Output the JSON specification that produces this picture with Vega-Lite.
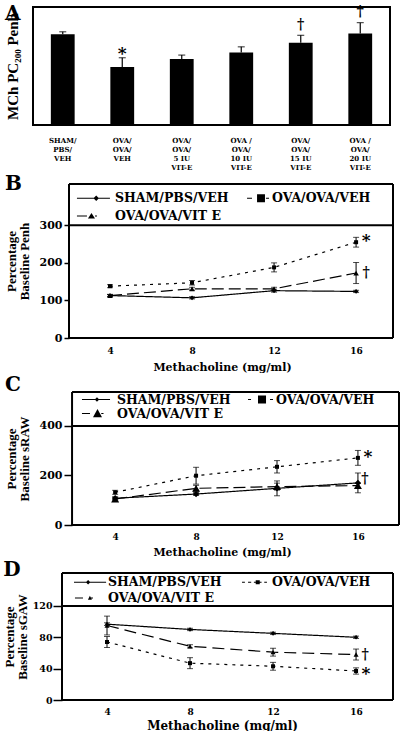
{
  "$schema": "https://vega.github.io/schema/vega-lite/v6.json",
  "padding": {"left": 3, "top": 3, "right": 0, "bottom": 0},
  "background": "white",
  "columns": 1,
  "spacing": 3,
  "center": false,
  "resolve": {
    "scale": {"shape": "independent", "size": "independent", "strokeDash": "independent"},
    "legend": {"shape": "independent", "size": "independent", "strokeDash": "independent"}
  },
  "config": {
    "view": {"stroke": "black", "strokeWidth": 2},
    "axis": {"labelFont": "DejaVu Serif", "labelFontWeight": "bold", "labelColor": "black", "titleFont": "Liberation Serif", "titleFontWeight": "bold", "titleColor": "black", "grid": false, "domain": false, "tickColor": "black"},
    "legend": {"labelFont": "DejaVu Serif", "labelFontWeight": "bold", "labelColor": "black", "labelFontSize": 12.5, "padding": 0},
    "title": {"font": "DejaVu Serif", "fontWeight": "bold", "fontSize": 20, "anchor": "start", "frame": "bounds", "color": "black"}
  },
  "datasets": {
    "bars": [
      {"group": "SHAM/|PBS/|VEH", "value": 30.8, "upper": 31.6},
      {"group": "OVA/|OVA/|VEH", "value": 19.7, "upper": 22.8},
      {"group": "OVA/|OVA/|5 IU|VIT-E", "value": 22.4, "upper": 23.7},
      {"group": "OVA /|OVA/|10 IU|VIT-E", "value": 24.6, "upper": 26.5},
      {"group": "OVA/|OVA/|15 IU|VIT-E", "value": 27.9, "upper": 30.4},
      {"group": "OVA /|OVA/|20 IU|VIT-E", "value": 31.0, "upper": 34.7}
    ],
    "notesA": [
      {"group": "OVA/|OVA/|VEH", "y": 25.5, "note": "*"},
      {"group": "OVA/|OVA/|15 IU|VIT-E", "y": 33.9, "note": "†"},
      {"group": "OVA /|OVA/|20 IU|VIT-E", "y": 38.3, "note": "†"}
    ],
    "lines": [
      {"panel": "B", "series": "SHAM/PBS/VEH", "dose": 4, "value": 113, "lo": 110, "hi": 116},
      {"panel": "B", "series": "SHAM/PBS/VEH", "dose": 8, "value": 107, "lo": 104, "hi": 110},
      {"panel": "B", "series": "SHAM/PBS/VEH", "dose": 12, "value": 126, "lo": 122, "hi": 130},
      {"panel": "B", "series": "SHAM/PBS/VEH", "dose": 16, "value": 124, "lo": 121, "hi": 127},
      {"panel": "B", "series": "OVA/OVA/VEH", "dose": 4, "value": 138, "lo": 134, "hi": 142},
      {"panel": "B", "series": "OVA/OVA/VEH", "dose": 8, "value": 147, "lo": 141, "hi": 153},
      {"panel": "B", "series": "OVA/OVA/VEH", "dose": 12, "value": 188, "lo": 176, "hi": 200},
      {"panel": "B", "series": "OVA/OVA/VEH", "dose": 16, "value": 255, "lo": 242, "hi": 268},
      {"panel": "B", "series": "OVA/OVA/VIT E", "dose": 4, "value": 113, "lo": 110, "hi": 116},
      {"panel": "B", "series": "OVA/OVA/VIT E", "dose": 8, "value": 131, "lo": 127, "hi": 135},
      {"panel": "B", "series": "OVA/OVA/VIT E", "dose": 12, "value": 131, "lo": 127, "hi": 135},
      {"panel": "B", "series": "OVA/OVA/VIT E", "dose": 16, "value": 173, "lo": 145, "hi": 201},
      {"panel": "C", "series": "SHAM/PBS/VEH", "dose": 4, "value": 108, "lo": 103, "hi": 113},
      {"panel": "C", "series": "SHAM/PBS/VEH", "dose": 8, "value": 125, "lo": 119, "hi": 131},
      {"panel": "C", "series": "SHAM/PBS/VEH", "dose": 12, "value": 148, "lo": 118, "hi": 178},
      {"panel": "C", "series": "SHAM/PBS/VEH", "dose": 16, "value": 170, "lo": 130, "hi": 210},
      {"panel": "C", "series": "OVA/OVA/VEH", "dose": 4, "value": 132, "lo": 124, "hi": 140},
      {"panel": "C", "series": "OVA/OVA/VEH", "dose": 8, "value": 199, "lo": 165, "hi": 233},
      {"panel": "C", "series": "OVA/OVA/VEH", "dose": 12, "value": 235, "lo": 210, "hi": 260},
      {"panel": "C", "series": "OVA/OVA/VEH", "dose": 16, "value": 271, "lo": 241, "hi": 301},
      {"panel": "C", "series": "OVA/OVA/VIT E", "dose": 4, "value": 105, "lo": 97, "hi": 113},
      {"panel": "C", "series": "OVA/OVA/VIT E", "dose": 8, "value": 148, "lo": 136, "hi": 160},
      {"panel": "C", "series": "OVA/OVA/VIT E", "dose": 12, "value": 155, "lo": 141, "hi": 169},
      {"panel": "C", "series": "OVA/OVA/VIT E", "dose": 16, "value": 159, "lo": 150, "hi": 168},
      {"panel": "D", "series": "SHAM/PBS/VEH", "dose": 4, "value": 96.7, "lo": 95, "hi": 98.5},
      {"panel": "D", "series": "SHAM/PBS/VEH", "dose": 8, "value": 90, "lo": 88.5, "hi": 91.5},
      {"panel": "D", "series": "SHAM/PBS/VEH", "dose": 12, "value": 85, "lo": 83.5, "hi": 86.5},
      {"panel": "D", "series": "SHAM/PBS/VEH", "dose": 16, "value": 80, "lo": 78.5, "hi": 81.5},
      {"panel": "D", "series": "OVA/OVA/VEH", "dose": 4, "value": 74, "lo": 67, "hi": 81},
      {"panel": "D", "series": "OVA/OVA/VEH", "dose": 8, "value": 47, "lo": 40, "hi": 54},
      {"panel": "D", "series": "OVA/OVA/VEH", "dose": 12, "value": 43, "lo": 38, "hi": 48},
      {"panel": "D", "series": "OVA/OVA/VEH", "dose": 16, "value": 37, "lo": 33, "hi": 41},
      {"panel": "D", "series": "OVA/OVA/VIT E", "dose": 4, "value": 95, "lo": 83, "hi": 107},
      {"panel": "D", "series": "OVA/OVA/VIT E", "dose": 8, "value": 68.5, "lo": 66.5, "hi": 70.5},
      {"panel": "D", "series": "OVA/OVA/VIT E", "dose": 12, "value": 61, "lo": 56, "hi": 66},
      {"panel": "D", "series": "OVA/OVA/VIT E", "dose": 16, "value": 58, "lo": 51, "hi": 65}
    ],
    "notes": [
      {"panel": "B", "dose": 16, "y": 269, "note": "*"},
      {"panel": "B", "dose": 16, "y": 173, "note": "†"},
      {"panel": "C", "dose": 16, "y": 291, "note": "*"},
      {"panel": "C", "dose": 16, "y": 186, "note": "†"},
      {"panel": "D", "dose": 16, "y": 57.5, "note": "†"},
      {"panel": "D", "dose": 16, "y": 38, "note": "*"}
    ]
  },
  "concat": [
    {
      "width": 357,
      "height": 118,
      "title": {"text": "A", "offset": -19},
      "layer": [
        {
          "data": {"name": "bars"},
          "mark": {"type": "bar", "color": "black"},
          "encoding": {
            "x": {"field": "group", "type": "nominal", "sort": null, "title": null, "scale": {"paddingInner": 0.6, "paddingOuter": 0.3},
              "axis": {"ticks": false, "domain": false, "labelAngle": 0, "labelExpr": "split(datum.label, '|')", "labelFontSize": 7, "labelLineHeight": 9, "labelPadding": 11, "labelBaseline": "top"}},
            "y": {"field": "value", "type": "quantitative", "title": "MCh PC₂₀₀ Penh", "scale": {"domain": [0, 40], "nice": false},
              "axis": {"labels": false, "ticks": false, "domain": false, "titleFont": "Liberation Serif", "titleFontSize": 15, "titlePadding": 13}}
          }
        },
        {
          "data": {"name": "bars"},
          "mark": {"type": "rule", "color": "black", "strokeWidth": 1.2},
          "encoding": {
            "x": {"field": "group", "type": "nominal", "sort": null, "title": null},
            "y": {"field": "value", "type": "quantitative", "title": "MCh PC₂₀₀ Penh"},
            "y2": {"field": "upper"}
          }
        },
        {
          "data": {"name": "bars"},
          "mark": {"type": "tick", "color": "black", "thickness": 1.2, "size": 7},
          "encoding": {
            "x": {"field": "group", "type": "nominal", "sort": null, "title": null},
            "y": {"field": "upper", "type": "quantitative", "title": "MCh PC₂₀₀ Penh"}
          }
        },
        {
          "data": {"name": "notesA"},
          "transform": [{"filter": "datum.note === '*'"}],
          "mark": {"type": "text", "font": "DejaVu Serif", "fontWeight": "bold", "fontSize": 17, "baseline": "middle", "dy": 4, "color": "black"},
          "encoding": {
            "x": {"field": "group", "type": "nominal", "sort": null, "title": null},
            "y": {"field": "y", "type": "quantitative", "title": "MCh PC₂₀₀ Penh"},
            "text": {"field": "note"}
          }
        },
        {
          "data": {"name": "notesA"},
          "transform": [{"filter": "datum.note === '†'"}],
          "mark": {"type": "text", "font": "DejaVu Serif", "fontWeight": "bold", "fontSize": 14, "baseline": "middle", "color": "black"},
          "encoding": {
            "x": {"field": "group", "type": "nominal", "sort": null, "title": null},
            "y": {"field": "y", "type": "quantitative", "title": "MCh PC₂₀₀ Penh"},
            "text": {"field": "note"}
          }
        }
      ]
    },
    {
      "width": 360,
      "height": 154,
      "view": {"stroke": null},
      "title": {"text": "B", "offset": -11},
      "resolve": {"scale": {"shape": "independent"}, "legend": {"shape": "independent"}},
      "layer": [
        {
          "data": {"name": "lines"},
          "transform": [{"filter": "datum.panel === 'B'"}],
          "mark": {"type": "line", "color": "black", "strokeWidth": 1.2},
          "encoding": {
            "x": {"field": "dose", "type": "quantitative", "title": "Methacholine (mg/ml)", "scale": {"domain": [0.244, 17.8], "nice": false, "zero": false},
              "axis": {"values": [4, 8, 12, 16], "ticks": false, "domain": false, "labelFontSize": 9, "labelPadding": 8, "titleFont": "DejaVu Serif", "titleFontSize": 11, "titlePadding": 6, "titleX": 189}},
            "y": {"field": "value", "type": "quantitative", "title": ["Percentage", "Baseline Penh"], "scale": {"domain": [0, 410], "nice": false},
              "axis": {"values": [0, 100, 200, 300], "offset": -36, "tickSize": 5, "tickWidth": 1.5, "labelFontSize": 11, "labelPadding": 2, "titleFontSize": 13, "titleLineHeight": 13, "titlePadding": 8}},
            "strokeDash": {"field": "series", "type": "nominal", "scale": {"domain": ["OVA/OVA/VEH", "OVA/OVA/VIT E", "SHAM/PBS/VEH"], "range": [[3, 5], [12, 5], [1, 0]]}, "legend": null}
          }
        },
        {
          "data": {"name": "lines"},
          "transform": [{"filter": "datum.panel === 'B'"}],
          "mark": {"type": "errorbar", "color": "black", "ticks": {"size": 6, "thickness": 1}},
          "encoding": {
            "x": {"field": "dose", "type": "quantitative", "title": "Methacholine (mg/ml)"},
            "y": {"field": "lo", "type": "quantitative", "title": ["Percentage", "Baseline Penh"]},
            "y2": {"field": "hi"}
          }
        },
        {
          "data": {"name": "lines"},
          "transform": [{"filter": "datum.panel === 'B'"}],
          "mark": {"type": "point", "filled": true, "color": "black", "opacity": 1},
          "encoding": {
            "x": {"field": "dose", "type": "quantitative", "title": "Methacholine (mg/ml)"},
            "y": {"field": "value", "type": "quantitative", "title": ["Percentage", "Baseline Penh"]},
            "shape": {"field": "series", "type": "nominal", "scale": {"domain": ["OVA/OVA/VEH", "OVA/OVA/VIT E", "SHAM/PBS/VEH"], "range": ["square", "triangle-up", "diamond"]}, "legend": null},
            "size": {"field": "series", "type": "ordinal", "scale": {"domain": ["OVA/OVA/VIT E", "SHAM/PBS/VEH", "OVA/OVA/VEH"], "range": [30, 16, 64]}, "legend": null}
          }
        },
        {
          "data": {"name": "lines"},
          "transform": [{"filter": "datum.panel === 'B'"}],
          "mark": {"type": "point", "filled": true, "color": "black", "opacity": 0},
          "encoding": {
            "x": {"field": "dose", "type": "quantitative", "title": "Methacholine (mg/ml)"},
            "y": {"field": "value", "type": "quantitative", "title": ["Percentage", "Baseline Penh"]},
            "shape": {"field": "series", "type": "nominal",
              "scale": {"domain": ["SHAM/PBS/VEH", "OVA/OVA/VEH", "OVA/OVA/VIT E"], "range": [
                "M-0.55,-0.055H2.45V0.055H-0.55ZM1.2,-0.25L1.45,0L1.2,0.25L0.95,0Z",
                "M0.64,-0.055H1.09V0.055H0.64ZM2.36,-0.055H2.64V0.055H2.36ZM1.55,-0.36H2.27V0.36H1.55Z",
                "M-0.55,-0.055H0.36V0.055H-0.55ZM1.09,-0.055H1.27V0.055H1.09ZM0.45,0.23L0.77,-0.27L1.09,0.23Z"]},
              "legend": {"title": null, "orient": "none", "legendX": 39, "legendY": 3, "direction": "horizontal", "columns": 2, "columnPadding": -12, "rowPadding": -4, "symbolSize": 484, "symbolOpacity": 1, "symbolStrokeWidth": 0, "labelOffset": 21}}
          }
        },
        {
          "data": {"values": [{"edge": "divider"}]},
          "mark": {"type": "rule", "color": "black", "strokeWidth": 2},
          "encoding": {"x": {"datum": 2.0}, "x2": {"datum": 17.8}, "y": {"datum": 300}}
        },
        {
          "data": {"values": [{"edge": "top"}]},
          "mark": {"type": "rule", "color": "black", "strokeWidth": 2},
          "encoding": {"x": {"datum": 2.0}, "x2": {"datum": 17.8}, "y": {"datum": 410}}
        },
        {
          "data": {"values": [{"edge": "bottom"}]},
          "mark": {"type": "rule", "color": "black", "strokeWidth": 2},
          "encoding": {"x": {"datum": 2.0}, "x2": {"datum": 17.8}, "y": {"datum": 0.01}}
        },
        {
          "data": {"values": [{"edge": "left"}]},
          "mark": {"type": "rule", "color": "black", "strokeWidth": 2},
          "encoding": {"x": {"datum": 2.0}, "y": {"datum": 0.01}, "y2": {"datum": 410}}
        },
        {
          "data": {"values": [{"edge": "right"}]},
          "mark": {"type": "rule", "color": "black", "strokeWidth": 2},
          "encoding": {"x": {"datum": 17.8}, "y": {"datum": 0.01}, "y2": {"datum": 410}}
        },
        {
          "data": {"name": "notes"},
          "transform": [{"filter": "datum.panel === 'B' && datum.note === '*'"}],
          "mark": {"type": "text", "font": "DejaVu Serif", "fontWeight": "bold", "fontSize": 17, "baseline": "middle", "dx": 10, "dy": 4, "color": "black"},
          "encoding": {"x": {"field": "dose", "type": "quantitative", "title": "Methacholine (mg/ml)"}, "y": {"field": "y", "type": "quantitative", "title": ["Percentage", "Baseline Penh"]}, "text": {"field": "note"}}
        },
        {
          "data": {"name": "notes"},
          "transform": [{"filter": "datum.panel === 'B' && datum.note === '†'"}],
          "mark": {"type": "text", "font": "DejaVu Serif", "fontWeight": "bold", "fontSize": 14, "baseline": "middle", "dx": 10, "color": "black"},
          "encoding": {"x": {"field": "dose", "type": "quantitative", "title": "Methacholine (mg/ml)"}, "y": {"field": "y", "type": "quantitative", "title": ["Percentage", "Baseline Penh"]}, "text": {"field": "note"}}
        }
      ]
    },
    {
      "width": 366,
      "height": 133,
      "view": {"stroke": null},
      "title": {"text": "C", "offset": -4},
      "resolve": {"scale": {"shape": "independent"}, "legend": {"shape": "independent"}},
      "layer": [
        {
          "data": {"name": "lines"},
          "transform": [{"filter": "datum.panel === 'C'"}],
          "mark": {"type": "line", "color": "black", "strokeWidth": 1.2},
          "encoding": {
            "x": {"field": "dose", "type": "quantitative", "title": "Methacholine (mg/ml)", "scale": {"domain": [-0.06, 18.03], "nice": false, "zero": false},
              "axis": {"values": [4, 8, 12, 16], "ticks": false, "domain": false, "labelFontSize": 9, "labelPadding": 7, "titleFont": "DejaVu Serif", "titleFontSize": 11, "titlePadding": 5, "titleX": 189}},
            "y": {"field": "value", "type": "quantitative", "title": ["Percentage", "Baseline sRAW"], "scale": {"domain": [0, 537], "nice": false},
              "axis": {"values": [0, 100, 200, 300, 400], "offset": -39, "tickSize": 8, "tickWidth": 1.5, "labelFontSize": 11, "labelPadding": 2, "titleFontSize": 13, "titleLineHeight": 13, "titlePadding": 8}},
            "strokeDash": {"field": "series", "type": "nominal", "scale": {"domain": ["OVA/OVA/VEH", "OVA/OVA/VIT E", "SHAM/PBS/VEH"], "range": [[3, 5], [12, 5], [1, 0]]}, "legend": null}
          }
        },
        {
          "data": {"name": "lines"},
          "transform": [{"filter": "datum.panel === 'C'"}],
          "mark": {"type": "errorbar", "color": "black", "ticks": {"size": 6, "thickness": 1}},
          "encoding": {
            "x": {"field": "dose", "type": "quantitative", "title": "Methacholine (mg/ml)"},
            "y": {"field": "lo", "type": "quantitative", "title": ["Percentage", "Baseline sRAW"]},
            "y2": {"field": "hi"}
          }
        },
        {
          "data": {"name": "lines"},
          "transform": [{"filter": "datum.panel === 'C'"}],
          "mark": {"type": "point", "filled": true, "color": "black", "opacity": 1},
          "encoding": {
            "x": {"field": "dose", "type": "quantitative", "title": "Methacholine (mg/ml)"},
            "y": {"field": "value", "type": "quantitative", "title": ["Percentage", "Baseline sRAW"]},
            "shape": {"field": "series", "type": "nominal", "scale": {"domain": ["OVA/OVA/VEH", "OVA/OVA/VIT E", "SHAM/PBS/VEH"], "range": ["square", "triangle-up", "diamond"]}, "legend": null},
            "size": {"field": "series", "type": "ordinal", "scale": {"domain": ["OVA/OVA/VIT E", "SHAM/PBS/VEH", "OVA/OVA/VEH"], "range": [64, 16, 64]}, "legend": null}
          }
        },
        {
          "data": {"name": "lines"},
          "transform": [{"filter": "datum.panel === 'C'"}],
          "mark": {"type": "point", "filled": true, "color": "black", "opacity": 0},
          "encoding": {
            "x": {"field": "dose", "type": "quantitative", "title": "Methacholine (mg/ml)"},
            "y": {"field": "value", "type": "quantitative", "title": ["Percentage", "Baseline sRAW"]},
            "shape": {"field": "series", "type": "nominal",
              "scale": {"domain": ["SHAM/PBS/VEH", "OVA/OVA/VEH", "OVA/OVA/VIT E"], "range": [
                "M0.33,-0.08H4.07V0.08H0.33ZM2.33,-0.3L2.63,0L2.33,0.3L2.03,0Z",
                "M1.27,-0.08H1.67V0.08H1.27ZM4.2,-0.08H4.6V0.08H4.2ZM2.6,-0.53H3.67V0.53H2.6Z",
                "M0.33,-0.08H1.4V0.08H0.33ZM2.9,-0.08H3.2V0.08H2.9ZM1.8,0.5L2.4,-0.6L3.0,0.5Z"]},
              "legend": {"title": null, "orient": "none", "legendX": 39, "legendY": 0, "direction": "horizontal", "columns": 2, "columnPadding": -5, "rowPadding": -4, "symbolSize": 225, "symbolOpacity": 1, "symbolStrokeWidth": 0, "labelOffset": 30}}
          }
        },
        {
          "data": {"values": [{"edge": "divider"}]},
          "mark": {"type": "rule", "color": "black", "strokeWidth": 2},
          "encoding": {"x": {"datum": 1.87}, "x2": {"datum": 18.03}, "y": {"datum": 400}}
        },
        {
          "data": {"values": [{"edge": "top"}]},
          "mark": {"type": "rule", "color": "black", "strokeWidth": 2},
          "encoding": {"x": {"datum": 1.87}, "x2": {"datum": 18.03}, "y": {"datum": 537}}
        },
        {
          "data": {"values": [{"edge": "bottom"}]},
          "mark": {"type": "rule", "color": "black", "strokeWidth": 2},
          "encoding": {"x": {"datum": 1.87}, "x2": {"datum": 18.03}, "y": {"datum": 0.01}}
        },
        {
          "data": {"values": [{"edge": "left"}]},
          "mark": {"type": "rule", "color": "black", "strokeWidth": 2},
          "encoding": {"x": {"datum": 1.87}, "y": {"datum": 0.01}, "y2": {"datum": 537}}
        },
        {
          "data": {"values": [{"edge": "right"}]},
          "mark": {"type": "rule", "color": "black", "strokeWidth": 2},
          "encoding": {"x": {"datum": 18.03}, "y": {"datum": 0.01}, "y2": {"datum": 537}}
        },
        {
          "data": {"name": "notes"},
          "transform": [{"filter": "datum.panel === 'C' && datum.note === '*'"}],
          "mark": {"type": "text", "font": "DejaVu Serif", "fontWeight": "bold", "fontSize": 17, "baseline": "middle", "dx": 10, "dy": 4, "color": "black"},
          "encoding": {"x": {"field": "dose", "type": "quantitative", "title": "Methacholine (mg/ml)"}, "y": {"field": "y", "type": "quantitative", "title": ["Percentage", "Baseline sRAW"]}, "text": {"field": "note"}}
        },
        {
          "data": {"name": "notes"},
          "transform": [{"filter": "datum.panel === 'C' && datum.note === '†'"}],
          "mark": {"type": "text", "font": "DejaVu Serif", "fontWeight": "bold", "fontSize": 14, "baseline": "middle", "dx": 7, "color": "black"},
          "encoding": {"x": {"field": "dose", "type": "quantitative", "title": "Methacholine (mg/ml)"}, "y": {"field": "y", "type": "quantitative", "title": ["Percentage", "Baseline sRAW"]}, "text": {"field": "note"}}
        }
      ]
    },
    {
      "width": 360,
      "height": 127,
      "view": {"stroke": null},
      "title": {"text": "D", "offset": -8},
      "resolve": {"scale": {"shape": "independent"}, "legend": {"shape": "independent"}},
      "layer": [
        {
          "data": {"name": "lines"},
          "transform": [{"filter": "datum.panel === 'D'"}],
          "mark": {"type": "line", "color": "black", "strokeWidth": 1.2},
          "encoding": {
            "x": {"field": "dose", "type": "quantitative", "title": "Methacholine (mg/ml)", "scale": {"domain": [0.434, 17.78], "nice": false, "zero": false},
              "axis": {"values": [4, 8, 12, 16], "ticks": false, "domain": false, "labelFontSize": 9, "labelPadding": 7, "titleFont": "DejaVu Serif", "titleFontSize": 12, "titlePadding": 4, "titleX": 189}},
            "y": {"field": "value", "type": "quantitative", "title": ["Percentage", "Baseline sGAW"], "scale": {"domain": [0, 162], "nice": false},
              "axis": {"values": [0, 40, 80, 120], "offset": -29, "tickSize": 9, "tickWidth": 1.5, "labelFontSize": 9.5, "labelPadding": 1, "titleFontSize": 13, "titleLineHeight": 13, "titlePadding": 3}},
            "strokeDash": {"field": "series", "type": "nominal", "scale": {"domain": ["OVA/OVA/VEH", "OVA/OVA/VIT E", "SHAM/PBS/VEH"], "range": [[3, 5], [12, 6], [1, 0]]}, "legend": null}
          }
        },
        {
          "data": {"name": "lines"},
          "transform": [{"filter": "datum.panel === 'D'"}],
          "mark": {"type": "errorbar", "color": "black", "ticks": {"size": 6, "thickness": 1}},
          "encoding": {
            "x": {"field": "dose", "type": "quantitative", "title": "Methacholine (mg/ml)"},
            "y": {"field": "lo", "type": "quantitative", "title": ["Percentage", "Baseline sGAW"]},
            "y2": {"field": "hi"}
          }
        },
        {
          "data": {"name": "lines"},
          "transform": [{"filter": "datum.panel === 'D'"}],
          "mark": {"type": "point", "filled": true, "color": "black", "opacity": 1},
          "encoding": {
            "x": {"field": "dose", "type": "quantitative", "title": "Methacholine (mg/ml)"},
            "y": {"field": "value", "type": "quantitative", "title": ["Percentage", "Baseline sGAW"]},
            "shape": {"field": "series", "type": "nominal", "scale": {"domain": ["OVA/OVA/VEH", "OVA/OVA/VIT E", "SHAM/PBS/VEH"], "range": ["square", "triangle-up", "diamond"]}, "legend": null},
            "size": {"field": "series", "type": "ordinal", "scale": {"domain": ["OVA/OVA/VIT E", "SHAM/PBS/VEH", "OVA/OVA/VEH"], "range": [25, 16, 25]}, "legend": null}
          }
        },
        {
          "data": {"name": "lines"},
          "transform": [{"filter": "datum.panel === 'D'"}],
          "mark": {"type": "point", "filled": true, "color": "black", "opacity": 0},
          "encoding": {
            "x": {"field": "dose", "type": "quantitative", "title": "Methacholine (mg/ml)"},
            "y": {"field": "value", "type": "quantitative", "title": ["Percentage", "Baseline sGAW"]},
            "shape": {"field": "series", "type": "nominal",
              "scale": {"domain": ["SHAM/PBS/VEH", "OVA/OVA/VEH", "OVA/OVA/VIT E"], "range": [
                "M0.33,-0.067H3.9V0.067H0.33ZM1.9,-0.25L2.15,0L1.9,0.25L1.65,0Z",
                "M0.78,-0.067H1.1V0.067H0.78ZM1.45,-0.067H1.8V0.067H1.45ZM2.1,-0.067H2.3V0.067H2.1ZM2.75,-0.067H2.95V0.067H2.75ZM3.25,-0.067H3.55V0.067H3.25ZM2.3,-0.22H2.75V0.22H2.3Z",
                "M0.44,-0.067H1.33V0.067H0.44ZM2.2,-0.067H2.44V0.067H2.2ZM1.88,0.2L2.1,-0.24L2.32,0.2Z"]},
              "legend": {"title": null, "orient": "none", "legendX": 29, "legendY": 0, "direction": "horizontal", "columns": 2, "columnPadding": 4, "rowPadding": -3, "symbolSize": 324, "symbolOpacity": 1, "symbolStrokeWidth": 0, "labelOffset": 28}}
          }
        },
        {
          "data": {"values": [{"edge": "divider"}]},
          "mark": {"type": "rule", "color": "black", "strokeWidth": 2},
          "encoding": {"x": {"datum": 1.83}, "x2": {"datum": 17.78}, "y": {"datum": 120}}
        },
        {
          "data": {"values": [{"edge": "top"}]},
          "mark": {"type": "rule", "color": "black", "strokeWidth": 2},
          "encoding": {"x": {"datum": 1.83}, "x2": {"datum": 17.78}, "y": {"datum": 162}}
        },
        {
          "data": {"values": [{"edge": "bottom"}]},
          "mark": {"type": "rule", "color": "black", "strokeWidth": 2},
          "encoding": {"x": {"datum": 1.83}, "x2": {"datum": 17.78}, "y": {"datum": 0.01}}
        },
        {
          "data": {"values": [{"edge": "left"}]},
          "mark": {"type": "rule", "color": "black", "strokeWidth": 2},
          "encoding": {"x": {"datum": 1.83}, "y": {"datum": 0.01}, "y2": {"datum": 162}}
        },
        {
          "data": {"values": [{"edge": "right"}]},
          "mark": {"type": "rule", "color": "black", "strokeWidth": 2},
          "encoding": {"x": {"datum": 17.78}, "y": {"datum": 0.01}, "y2": {"datum": 162}}
        },
        {
          "data": {"name": "notes"},
          "transform": [{"filter": "datum.panel === 'D' && datum.note === '*'"}],
          "mark": {"type": "text", "font": "DejaVu Serif", "fontWeight": "bold", "fontSize": 17, "baseline": "middle", "dx": 10, "dy": 4, "color": "black"},
          "encoding": {"x": {"field": "dose", "type": "quantitative", "title": "Methacholine (mg/ml)"}, "y": {"field": "y", "type": "quantitative", "title": ["Percentage", "Baseline sGAW"]}, "text": {"field": "note"}}
        },
        {
          "data": {"name": "notes"},
          "transform": [{"filter": "datum.panel === 'D' && datum.note === '†'"}],
          "mark": {"type": "text", "font": "DejaVu Serif", "fontWeight": "bold", "fontSize": 14, "baseline": "middle", "dx": 9, "color": "black"},
          "encoding": {"x": {"field": "dose", "type": "quantitative", "title": "Methacholine (mg/ml)"}, "y": {"field": "y", "type": "quantitative", "title": ["Percentage", "Baseline sGAW"]}, "text": {"field": "note"}}
        }
      ]
    }
  ]
}
